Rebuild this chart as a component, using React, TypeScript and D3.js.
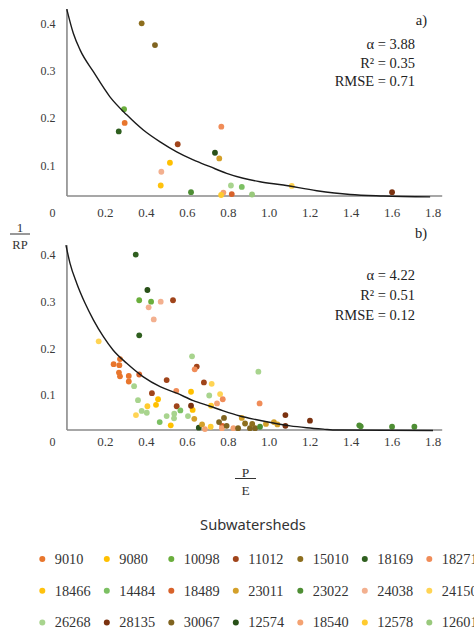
import React from "react";
import * as d3 from "d3";

// ---------- data ----------
const subwatersheds = [
  "9010", "9080", "10098", "11012", "15010", "18169", "18271",
  "18466", "14484", "18489", "23011", "23022", "24038", "24150",
  "26268", "28135", "30067", "12574", "18540", "12578", "12601",
];
const subwatershedColors = [
  "#E8762D", "#FFC000", "#6AAE3C", "#A0441A", "#8D6E1E", "#2F5F1F", "#F08C58",
  "#FFC20E", "#7CC063", "#D8622A", "#D4A02A", "#4E8E34", "#F3B08F", "#FFD454",
  "#A8D48E", "#7B3210", "#806420", "#285018", "#F4A272", "#FFCB2F", "#99C97C",
];

// panel a)
const aX = [0.377, 0.442, 0.291, 0.294, 0.265, 0.766, 0.553, 0.735, 0.756, 0.515, 0.473,
  0.470, 0.618, 0.813, 0.866, 0.916, 0.776, 0.817, 0.765, 1.110, 1.600];
const aY = [0.400, 0.354, 0.219, 0.190, 0.172, 0.182, 0.145, 0.127, 0.115, 0.106, 0.087,
  0.058, 0.044, 0.058, 0.055, 0.039, 0.043, 0.040, 0.038, 0.057, 0.044];
const aGroup = ["15010", "30067", "10098", "9010", "18169", "18271", "11012", "12574", "23011", "9080", "24038",
  "18466", "23022", "26268", "14484", "12601", "18540", "18489", "12578", "24150", "28135"];

// panel b)
const bX = [
  0.348, 0.365, 0.405, 0.656, 0.365, 0.423, 0.470, 0.411, 0.436,
  0.530, 0.646, 0.499, 0.681, 0.427, 0.548,
  0.167, 0.719, 0.760, 0.349,
  0.623, 0.340, 0.707, 0.359, 0.377, 0.402, 0.499, 0.536, 0.535, 0.603, 0.947,
  0.465, 0.566,
  0.636, 0.546, 0.773, 0.953,
  0.271, 0.240, 0.268, 0.266, 0.271, 0.314, 0.314,
  0.365, 0.771,
  0.618, 0.457, 0.447, 0.626, 0.519,
  0.405, 0.716, 0.714,
  0.618, 1.079, 1.079, 1.199,
  0.634, 0.672, 0.866, 0.984, 1.023, 1.040,
  0.686, 0.745, 0.769, 0.825,
  0.755, 0.779, 0.792, 0.848, 0.906, 0.931,
  0.882, 0.917,
  0.955, 1.440, 1.447, 1.600, 1.709,
];
const bY = [
  0.401, 0.228, 0.325, 0.030, 0.303, 0.300, 0.300, 0.288, 0.262,
  0.303, 0.161, 0.132, 0.127, 0.104, 0.076,
  0.215, 0.124, 0.102, 0.057,
  0.183, 0.119, 0.099, 0.089, 0.066, 0.062, 0.055, 0.060, 0.050, 0.055, 0.150,
  0.042, 0.067,
  0.155, 0.109, 0.091, 0.082,
  0.177, 0.166, 0.164, 0.148, 0.140, 0.141, 0.129,
  0.144, 0.034,
  0.107, 0.091, 0.079, 0.068, 0.035,
  0.076, 0.077, 0.032,
  0.077, 0.057, 0.034, 0.045,
  0.049, 0.037, 0.051, 0.038, 0.042, 0.037,
  0.027, 0.082, 0.029, 0.029,
  0.042, 0.051, 0.034, 0.029, 0.029, 0.029,
  0.039, 0.038,
  0.032, 0.035, 0.033, 0.032, 0.032,
];
const bGroup = [
  "18169", "18169", "12574", "12574", "10098", "10098", "24038", "24038", "24038",
  "11012", "11012", "11012", "11012", "11012", "11012",
  "24150", "24150", "24150", "24150",
  "26268", "26268", "26268", "26268", "26268", "26268", "26268", "26268", "26268", "26268", "26268",
  "14484", "14484",
  "18271", "18271", "18271", "18271",
  "9010", "9010", "9010", "9010", "9010", "9010", "9010",
  "18489", "18489",
  "9080", "9080", "9080", "9080", "9080",
  "12578", "12578", "12578",
  "28135", "28135", "28135", "28135",
  "23011", "23011", "23011", "23011", "23011", "23011",
  "18540", "18540", "18540", "18540",
  "30067", "30067", "30067", "30067", "30067", "30067",
  "15010", "15010",
  "23022", "23022", "23022", "23022", "23022",
];

// fitted curves
const aCurveX = [0.011, 0.043, 0.076, 0.141, 0.222, 0.304, 0.385, 0.467, 0.548, 0.629, 0.711,
  0.792, 0.873, 0.955, 1.069, 1.232, 1.395, 1.557, 1.786];
const aCurveY = [0.430, 0.379, 0.344, 0.298, 0.245, 0.207, 0.175, 0.150, 0.129, 0.112, 0.0976,
  0.0837, 0.0732, 0.066, 0.059, 0.047, 0.039, 0.036, 0.034];
const bCurveX = [0.007, 0.027, 0.060, 0.100, 0.141, 0.190, 0.238, 0.304, 0.385, 0.467, 0.548,
  0.629, 0.711, 0.776, 0.857, 0.939, 1.020, 1.102, 1.183, 1.264, 1.330, 1.800];
const bCurveY = [0.421, 0.382, 0.339, 0.297, 0.261, 0.225, 0.196, 0.168, 0.139, 0.118, 0.104,
  0.088, 0.076, 0.066, 0.055, 0.047, 0.040, 0.034, 0.030, 0.027, 0.025, 0.024];

const xTicks = [0.2, 0.4, 0.6, 0.8, 1.0, 1.2, 1.4, 1.6, 1.8];
const yTicks = [0, 0.1, 0.2, 0.3, 0.4];
const statsA = ["a)", "α = 3.88", "R² = 0.35", "RMSE = 0.71"];
const statsB = ["b)", "α = 4.22", "R² = 0.51", "RMSE = 0.12"];

// ---------- layout ----------
const W = 474, H = 633;
const SERIF = "Liberation Serif, Times New Roman, DejaVu Serif, serif";
const SANS = "Noto Sans, Open Sans, sans-serif";
const serif = (size: number) => ({ fontFamily: SERIF, fontSize: `${size}px` });
const xScale = d3.scaleLinear().domain([0, 1.8]).range([64.5, 433]);
const AXIS_X = 0.012;
const X_END = 1.845;

const colorOf = d3.scaleOrdinal<string, string>().domain(subwatersheds).range(subwatershedColors);

type PanelProps = {
  y: d3.ScaleLinear<number, number>;
  xs: number[]; ys: number[]; groups: string[];
  cx: number[]; cy: number[];
  axisY: number; axisTop: number;
  stats: string[]; statsY: number[];
  tickBase: number;
};

function Panel({ y, xs, ys, groups, cx, cy, axisY, axisTop, stats, statsY, tickBase }: PanelProps) {
  const line = d3.line<number>()
    .x((_, i) => xScale(cx[i]))
    .y((_, i) => y(cy[i]))
    .curve(d3.curveMonotoneX);
  const x0 = xScale(AXIS_X);
  return (
    <g>
      <line x1={x0} x2={x0} y1={y(axisTop)} y2={y(axisY)} stroke="#8a8a8a" strokeWidth={1.6} />
      <line x1={x0} x2={xScale(X_END)} y1={y(axisY)} y2={y(axisY)} stroke="#8a8a8a" strokeWidth={1.6} />
      {yTicks.map((t) => (
        <text key={"y" + t} x={55.5} y={y(t)} dy="0.35em" textAnchor="end"
          style={serif(12)} fill="#3a3a3a">{t === 0 ? "0" : t.toFixed(1)}</text>
      ))}
      {xTicks.map((t) => (
        <text key={"x" + t} x={xScale(t)} y={tickBase} dy="0.35em" textAnchor="middle"
          style={serif(13)} fill="#3a3a3a">{t.toFixed(1)}</text>
      ))}
      {xs.map((v, i) => (
        <circle key={i} cx={xScale(v)} cy={y(ys[i])} r={2.9} fill={colorOf(groups[i])} />
      ))}
      <path d={line(cx) || ""} fill="none" stroke="#1a1a1a" strokeWidth={1.4} />
      {stats.map((s, i) => (
        <text key={s} x={i === 0 ? 427 : 415} y={statsY[i]} textAnchor="end"
          style={serif(14.5)} fill="#222">{s}</text>
      ))}
    </g>
  );
}

export default function App() {
  const yA = d3.scaleLinear().domain([0, 0.4]).range([213, 23.3]);
  const yB = d3.scaleLinear().domain([0, 0.4]).range([441.7, 255]);
  const cols = 7;
  return (
    <svg width={W} height={H} viewBox={`0 0 ${W} ${H}`}
      style={{ position: "absolute", left: 0, top: 0, background: "#fff" }}>
      <rect width={W} height={H} fill="#fff" />
      <Panel y={yA} xs={aX} ys={aY} groups={aGroup} cx={aCurveX} cy={aCurveY}
        axisY={0.036} axisTop={0.43} stats={statsA} statsY={[25, 49, 67.5, 86]} tickBase={212} />
      <Panel y={yB} xs={bX} ys={bY} groups={bGroup} cx={bCurveX} cy={bCurveY}
        axisY={0.025} axisTop={0.421} stats={statsB} statsY={[238, 280, 300, 320]} tickBase={441.7} />

      <text x={20} y={232} textAnchor="middle" style={serif(13)} fill="#333">1</text>
      <line x1={10} x2={30} y1={234} y2={234} stroke="#333" strokeWidth={1} />
      <text x={20} y={249} textAnchor="middle" style={serif(12.5)} fill="#333">RP</text>

      <text x={245.5} y={477} textAnchor="middle" style={serif(13.5)} fill="#333">P</text>
      <line x1={235} x2={256} y1={478.5} y2={478.5} stroke="#333" strokeWidth={1} />
      <text x={245.5} y={495} textAnchor="middle" style={serif(13.5)} fill="#333">E</text>

      <text x={253} y={530} textAnchor="middle" style={{ fontFamily: SANS, fontSize: "14.7px" }} fill="#333">Subwatersheds</text>
      {subwatersheds.map((name, i) => {
        const c = i % cols, r = Math.floor(i / cols);
        const dx = 42.3 + c * 64.5;
        const dy = 559 + r * 31.7;
        return (
          <g key={name}>
            <circle cx={dx} cy={dy} r={3} fill={subwatershedColors[i]} />
            <text x={dx + 12.5} y={dy} dy="0.35em" style={serif(14.3)} fill="#333">{name}</text>
          </g>
        );
      })}
    </svg>
  );
}
